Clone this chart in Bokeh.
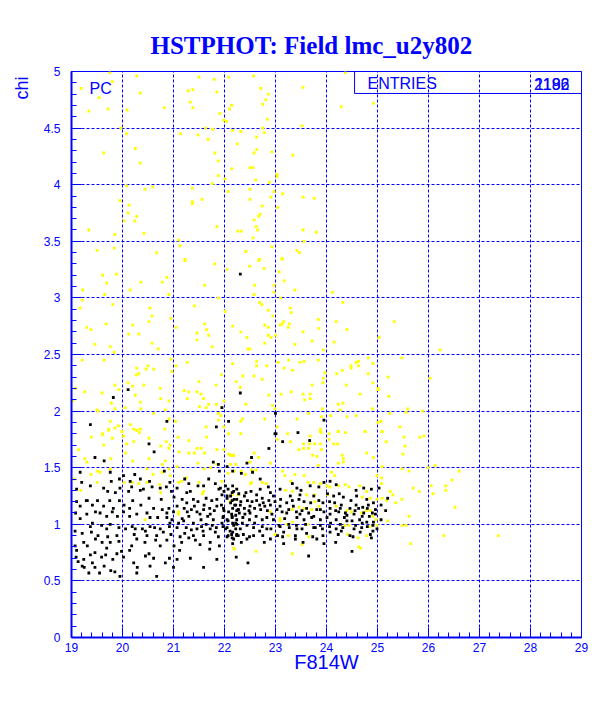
import numpy as np
from bokeh.plotting import figure
from bokeh.models import Range1d, FixedTicker, Label, BoxAnnotation, Title
from bokeh.embed import file_html
from bokeh.resources import INLINE

BLUE = "#0000ff"

x_ticks = [19, 20, 21, 22, 23, 24, 25, 26, 27, 28, 29]
y_ticks = [0, 0.5, 1, 1.5, 2, 2.5, 3, 3.5, 4, 4.5, 5]
y_tick_labels = ["0", "0.5", "1", "1.5", "2", "2.5", "3", "3.5", "4", "4.5", "5"]

title_text = "HSTPHOT: Field lmc_u2y802"
x_title = "F814W"
y_title = "chi"
entries_counts = ["2196", "1182"]

# yellow points (all stars)
yellow_pts = [
 (19.75,4.99),(20.28,4.96),(21.50,4.95),(21.80,4.93),(22.08,4.95),(22.57,4.96),(19.19,4.85),(19.80,4.91),
 (22.71,4.85),(23.54,4.86),(20.35,4.81),(21.29,4.83),(21.38,4.84),(21.85,4.82),(22.86,4.80),(19.54,4.77),
 (21.33,4.73),(22.81,4.75),(22.75,4.71),(22.14,4.70),(22.10,4.67),(19.72,4.67),(19.34,4.65),(20.09,4.66),
 (20.82,4.68),(21.38,4.68),(21.91,4.63),(22.84,4.58),(21.99,4.57),(22.04,4.56),(23.52,4.52),(19.97,4.50),
 (21.63,4.50),(21.77,4.49),(22.16,4.48),(22.32,4.47),(22.75,4.50),(22.78,4.46),(20.08,4.45),(21.14,4.45),
 (21.48,4.44),(21.68,4.40),(22.63,4.42),(22.25,4.36),(22.63,4.31),(20.25,4.32),(19.63,4.28),(21.81,4.28),
 (22.58,4.28),(22.93,4.29),(23.34,4.26),(20.35,4.19),(21.88,4.21),(22.14,4.14),(22.50,4.15),(22.56,4.15),
 (23.03,4.09),(21.88,4.08),(23.03,4.07),(22.61,4.04),(22.88,4.02),(21.76,4.01),(22.01,4.05),(20.08,3.99),
 (20.59,3.98),(20.44,3.96),(21.37,3.97),(22.50,3.96),(22.07,3.94),(22.97,3.94),(23.14,3.92),(22.91,3.89),
 (23.54,3.89),(23.76,3.88),(21.56,3.87),(21.37,3.85),(19.95,3.86),(22.50,3.87),(21.37,3.83),(20.13,3.82),
 (22.74,3.81),(23.04,3.80),(20.11,3.75),(20.28,3.72),(22.70,3.74),(22.67,3.72),(22.58,3.69),(20.03,3.68),
 (20.24,3.68),(22.62,3.63),(21.85,3.63),(22.26,3.59),(22.33,3.59),(22.65,3.60),(23.54,3.60),(19.34,3.60),
 (20.42,3.57),(23.80,3.58),(19.85,3.56),(22.56,3.53),(23.56,3.50),(21.10,3.51),(21.13,3.46),(19.50,3.42),
 (19.84,3.44),(20.67,3.40),(22.42,3.41),(22.93,3.45),(23.42,3.42),(23.47,3.40),(21.23,3.34),(23.13,3.35),
 (22.69,3.34),(24.37,4.99),(24.29,4.69),(24.92,4.72),
 (21.22,3.33),(21.81,3.30),(22.67,3.33),(22.49,3.28),(22.78,3.26),(22.05,3.25),(23.13,3.34),(23.07,3.23),
 (19.61,3.20),(19.88,3.21),(20.87,3.18),(23.17,3.15),(19.69,3.13),(20.36,3.14),(20.78,3.14),(21.61,3.11),
 (22.59,3.11),(22.97,3.11),(19.22,3.07),(20.15,3.07),(19.65,3.03),(20.91,3.03),(22.58,3.03),(23.38,3.07),
 (22.97,3.05),(19.21,2.98),(21.88,3.00),(23.10,3.00),(22.69,2.96),(22.73,2.94),(19.81,2.94),(19.17,2.91),
 (20.54,2.91),(22.86,2.89),(23.29,2.91),(22.01,2.88),(21.41,2.93),(23.31,2.87),(22.95,2.84),(20.58,2.84),
 (20.95,2.82),(23.16,2.79),(23.13,2.77),(23.27,2.77),(23.84,2.81),(23.09,2.76),(19.68,2.77),(20.52,2.79),
 (21.61,2.77),(19.30,2.74),(19.38,2.72),(20.20,2.76),(21.05,2.74),(21.65,2.72),(22.16,2.75),(22.79,2.76),
 (22.86,2.74),(23.25,2.74),(23.85,2.73),(21.69,2.67),(22.32,2.70),(20.12,2.68),(20.32,2.68),(21.46,2.69),
 (22.86,2.67),(22.91,2.65),(23.00,2.67),(23.54,2.70),(22.44,2.65),(21.46,2.63),(19.46,2.59),(20.58,2.60),
 (21.76,2.57),(22.79,2.60),(23.38,2.59),(23.72,2.62),(19.76,2.57),(20.70,2.55),(22.50,2.55),(22.46,2.55),
 (19.84,2.52),(23.94,2.54),(19.21,2.45),(19.64,2.45),(20.95,2.46),(21.27,2.43),(22.16,2.42),(22.63,2.44),
 (23.05,2.43),(23.26,2.45),(23.48,2.43),(23.56,2.44),(23.84,2.45),(22.63,2.40),(22.83,2.40),(23.17,2.38),
 (20.50,2.40),(21.05,2.40),(20.28,2.38),(20.61,2.37),(23.33,2.36),(20.46,2.37),(20.32,2.33),(20.27,2.32),
 (20.97,2.35),(23.97,2.34),(23.94,2.29),(21.94,2.32),(22.36,2.31),(22.58,2.31),(22.74,2.28),(20.11,2.25),
 (21.50,2.26),(22.23,2.26),(20.42,2.23),(20.20,2.22),(19.85,2.23),(21.84,2.23),(23.72,2.23),(23.93,2.25),
 (20.74,2.20),(22.31,2.21),(19.93,2.19),(19.08,2.20),(19.26,2.17),(19.60,2.16),(21.21,2.18),(21.30,2.17),
 (21.46,2.17),(21.54,2.15),(23.11,2.15),(23.31,2.17),(23.54,2.15),(23.68,2.15),(22.87,2.14),(23.68,2.11),
 (20.25,2.14),(20.75,2.11),(20.91,2.09),(21.59,2.11),(21.69,2.06),(21.84,2.06),(21.27,2.11),(19.78,2.07),
 (19.03,2.09),(20.35,2.08),(21.99,2.09),(22.42,2.06),(23.57,2.10),(21.51,2.04),(21.64,2.03),(22.94,2.05),
 (22.99,2.02),(21.94,2.03),(19.85,2.02),(20.05,2.03),(20.36,2.02),(20.84,2.01),(19.50,2.01),(19.52,2.00),
 (23.92,2.02),(21.88,1.98),(20.61,1.98),(21.93,1.96),(23.65,1.98),(20.91,1.93),(21.88,1.92),(22.35,1.93),
 (22.79,1.93),(23.42,1.93),(23.90,1.95),(19.76,1.91),(21.04,1.91),(22.32,1.91),(19.92,1.87),(20.15,1.88),
 (19.85,1.85),(21.64,1.86),(21.99,1.86),(23.03,1.86),(19.73,1.84),(20.22,1.84),(20.28,1.83),(20.35,1.84),
 (20.83,1.84),(23.88,1.84),(19.61,1.79),(19.99,1.82),(23.89,1.81),
 (24.12,3.05),(24.32,2.96),(24.19,2.79),(24.40,2.72),(25.33,2.79),(24.15,2.61),(25.03,2.65),(26.23,2.54),
 (24.82,2.47),(25.48,2.47),(24.63,2.44),(24.58,2.43),(24.91,2.42),(24.48,2.40),(24.63,2.40),(24.48,2.38),
 (24.31,2.36),(24.20,2.33),(24.82,2.33),(25.21,2.30),(26.03,2.29),(24.91,2.25),(24.39,2.23),(25.01,2.20),
 (25.01,2.19),(24.66,2.15),(25.22,2.13),(24.32,2.07),(24.23,2.06),(24.90,2.02),(24.27,2.01),(25.59,2.02),
 (25.56,1.99),(25.88,2.00),(25.24,1.98),(24.08,1.96),(24.40,1.95),(24.58,1.96),(25.07,1.91),(25.01,1.90),
 (25.44,1.86),(24.23,1.82),(24.37,1.81),(24.75,1.82),(25.09,1.82),
 (25.52,1.77),(25.91,1.78),(25.83,1.77),(25.54,1.69),(25.50,1.62),(26.13,1.52),(25.99,1.50),(25.48,1.49),
 (25.62,1.47),(26.60,1.47),(26.46,1.39),(26.05,1.34),(26.34,1.34),(25.70,1.32),(25.82,1.29),(26.09,1.27),
 (26.34,1.30),(25.48,1.22),(25.36,1.19),(26.52,1.15),(25.62,1.07),(25.48,0.99),(25.56,0.99),(26.30,0.90),
 (25.65,0.83),(27.37,0.90),
 (19.61,1.80),(19.73,1.83),(20.02,1.78),(20.28,1.83),(20.33,1.81),(19.39,1.77),(19.80,1.76),(19.63,1.70),
 (20.08,1.71),(20.22,1.73),(20.52,1.76),(20.75,1.69),(20.86,1.73),(20.93,1.70),(20.91,1.67),(21.09,1.77),
 (21.30,1.74),(21.65,1.77),(21.46,1.67),(21.54,1.67),(22.08,1.80),(21.85,1.66),(21.99,1.66),(21.11,1.64),
 (21.30,1.63),(21.41,1.63),(21.61,1.63),(19.14,1.66),(20.06,1.63),(19.26,1.58),(19.30,1.55),(19.77,1.58),
 (20.20,1.56),(20.52,1.58),(20.84,1.56),(20.78,1.53),(22.08,1.62),(22.18,1.61),(22.22,1.53),(21.85,1.53),
 (21.48,1.54),(19.51,1.47),(19.76,1.49),(20.48,1.49),(20.91,1.49),(21.07,1.51),(20.78,1.46),(19.38,1.44),
 (19.56,1.46),(20.60,1.44),(20.94,1.43),(21.25,1.41),(21.60,1.49),(21.73,1.50),(22.07,1.45),(22.19,1.47),
 (19.05,1.40),(19.50,1.37),(20.03,1.37),(20.19,1.37),(20.32,1.36),(20.48,1.37),(20.73,1.35),(21.10,1.37),
 (21.16,1.38),(21.50,1.37),(21.95,1.38),(19.18,1.30),(20.75,1.28),(21.59,1.29),(21.57,1.27),(22.15,1.26),
 (20.44,1.04),(21.10,1.11),(21.10,1.09),(22.19,0.78),
 (22.32,1.80),(23.24,1.80),(23.68,1.78),(24.05,1.80),(24.23,1.82),(23.88,1.82),(24.76,1.82),(25.09,1.82),
 (23.03,1.75),(23.29,1.73),(23.55,1.71),(23.67,1.71),(23.77,1.71),(23.88,1.71),(24.05,1.75),(24.14,1.71),
 (24.22,1.71),(25.17,1.73),(22.12,1.61),(22.18,1.61),(22.58,1.63),(22.67,1.59),(23.46,1.66),(23.55,1.67),
 (23.65,1.67),(23.73,1.61),(23.81,1.60),(23.90,1.66),(24.31,1.61),(24.33,1.58),(24.79,1.63),(24.92,1.59),
 (22.50,1.55),(22.90,1.54),(23.84,1.52),(24.23,1.54),(24.33,1.55),(25.09,1.51),(22.12,1.53),(22.33,1.47),
 (22.41,1.44),(22.53,1.48),(22.62,1.48),(23.14,1.47),(23.18,1.43),(23.38,1.44),(23.56,1.43),(24.10,1.46),
 (24.16,1.43),(24.99,1.43),(25.08,1.41),(22.53,1.37),(22.51,1.36),(22.74,1.37),(22.82,1.36),(23.30,1.38),
 (23.64,1.37),(23.75,1.37),(23.88,1.36),(24.01,1.34),(24.24,1.34),(24.37,1.35),(24.44,1.33),(24.65,1.34),
 (25.08,1.36),(25.25,1.29),(23.20,1.30),(23.33,1.29),(24.07,1.33),(24.79,1.29),(23.61,1.26),(23.77,1.26),
 (24.02,1.26),(24.70,1.24),(24.86,1.23),(24.99,1.22),(25.09,1.23),(25.30,1.26),(25.18,1.21),(23.77,1.20),
 (22.27,1.26),(22.11,1.20),(22.24,1.22),(23.46,1.15),(23.85,1.16),(23.56,1.14),(22.90,1.11),(23.33,1.13),
 (23.71,1.13),(24.19,1.16),(24.40,1.12),(24.49,1.11),(24.69,1.10),(24.78,1.12),(24.86,1.12),(24.91,1.07),
 (24.97,1.04),(24.99,0.99),(25.20,1.03),(24.84,0.98),(23.09,1.05),(23.09,1.03),(23.33,1.02),(23.22,1.00),
 (23.63,1.00),(24.36,0.99),(24.44,0.99),(22.99,0.91),(23.65,0.89),(24.42,0.91),(24.62,0.88),(24.79,0.90),
 (23.25,0.90),(23.52,0.82),(22.18,0.79),(24.63,0.80),(24.67,0.79),(22.62,0.76),(23.33,0.74),
]

# black points (selected stars)
black_pts = [
 (22.31,3.21),(20.11,2.19),(19.82,2.12),(22.31,2.16),(21.95,2.03),(23.00,1.98),(20.87,1.91),(22.08,1.91),
 (19.37,1.88),(21.84,1.86),(23.95,1.92),(23.44,1.81),(22.99,1.80),
 (20.52,1.71),(19.64,1.56),(19.46,1.59),(20.62,1.64),(21.78,1.55),(21.88,1.53),(21.90,1.47),(22.05,1.51),
 (20.15,1.38),(20.18,1.33),(19.20,1.37),(19.78,1.38),(19.94,1.40),(20.24,1.44),(20.82,1.47),(19.71,1.29),
 (19.86,1.28),(20.12,1.29),(20.35,1.30),(20.53,1.38),(20.58,1.33),(20.86,1.33),(20.96,1.29),(21.22,1.40),
 (21.30,1.36),(21.33,1.29),(21.48,1.34),(21.69,1.40),(21.82,1.36),(22.02,1.34),(22.16,1.34),(21.89,1.31),
 (21.64,1.23),(21.75,1.21),(21.85,1.22),(22.05,1.25),(22.15,1.21),(22.24,1.22),(19.29,1.21),(19.31,1.21),
 (19.10,1.20),(19.51,1.21),(19.75,1.21),(19.94,1.21),(20.20,1.21),(20.52,1.23),(20.76,1.22),(21.01,1.24),
 (21.17,1.22),(21.26,1.19),(21.39,1.22),(21.48,1.20),(19.17,1.16),(19.41,1.17),(19.63,1.16),(19.82,1.14),
 (20.03,1.17),(20.14,1.14),(20.36,1.17),(20.61,1.14),(20.78,1.13),(20.91,1.14),(21.07,1.16),(21.21,1.14),
 (21.35,1.13),(21.46,1.11),(21.59,1.13),(21.71,1.14),(21.85,1.16),(21.98,1.14),(22.08,1.11),(22.24,1.12),
 (19.56,1.10),(19.69,1.07),(19.90,1.07),(20.14,1.07),(20.28,1.09),(20.69,1.06),(20.87,1.06),(21.17,1.05),
 (21.30,1.07),(21.54,1.04),(21.67,1.07),(21.78,1.04),(21.97,1.06),(22.05,1.04),(22.15,1.06),(19.17,1.05),
 (19.41,1.01),(19.59,0.99),(19.76,1.00),(19.93,0.97),(20.19,0.98),(20.39,0.96),(20.54,0.98),(20.63,0.97),
 (20.74,0.96),(20.92,0.98),(21.07,0.97),(21.25,0.97),(21.35,0.95),(21.55,0.98),(21.72,0.96),(21.84,0.97),
 (21.97,0.98),(22.05,0.97),(22.16,0.93),(22.24,0.91),(19.07,0.94),(19.21,0.92),(19.39,0.93),(19.52,0.90),
 (19.71,0.89),(19.89,0.90),(20.23,0.91),(20.48,0.90),(20.67,0.90),(20.95,0.91),(21.13,0.89),(21.39,0.90),
 (21.59,0.90),(21.88,0.89),(22.07,0.90),(19.24,0.84),(19.31,0.81),(19.07,0.81),(19.60,0.84),(19.93,0.85),
 (20.18,0.81),(20.44,0.84),(20.65,0.86),(20.87,0.86),(21.16,0.84),(21.72,0.84),(21.90,0.81),(19.10,0.77),
 (19.46,0.75),(19.67,0.73),(19.98,0.76),(20.14,0.77),(20.52,0.74),(21.12,0.77),(19.09,0.71),(19.24,0.69),
 (19.59,0.71),(19.81,0.69),(20.02,0.71),(20.45,0.72),(20.61,0.70),(20.92,0.70),(21.07,0.69),(21.33,0.70),
 (19.21,0.63),(19.25,0.62),(19.41,0.66),(19.46,0.62),(19.64,0.63),(19.77,0.59),(19.85,0.58),(20.29,0.62),
 (19.34,0.57),(21.59,0.62),(20.28,0.57),(20.67,0.54),(21.85,0.69),
 (23.01,1.80),(23.14,1.73),(23.67,1.74),(22.87,1.67),(22.53,1.59),(22.44,1.54),(22.16,1.47),(22.33,1.45),
 (22.55,1.46),(22.70,1.40),(22.86,1.33),(23.09,1.31),(23.33,1.36),(23.42,1.32),(23.50,1.30),(23.68,1.34),
 (23.85,1.33),(23.95,1.37),(24.07,1.38),(24.19,1.35),(24.25,1.27),(24.58,1.30),(24.73,1.32),(24.88,1.31),
 (25.03,1.32),(25.20,1.23),(22.15,1.28),(22.28,1.27),(22.42,1.28),(22.52,1.29),(22.63,1.26),(22.74,1.23),
 (22.19,1.22),(22.32,1.20),(22.45,1.21),(22.54,1.20),(22.63,1.21),(22.76,1.19),(22.87,1.21),(22.99,1.20),
 (23.10,1.22),(23.22,1.19),(23.33,1.21),(23.46,1.22),(23.56,1.20),(23.69,1.19),(23.85,1.21),(23.93,1.19),
 (24.06,1.20),(24.16,1.19),(24.29,1.17),(24.48,1.21),(24.58,1.17),(24.71,1.15),(24.82,1.17),(24.96,1.13),
 (25.07,1.17),(25.16,1.12),(22.16,1.14),(22.27,1.13),(22.39,1.14),(22.48,1.12),(22.59,1.14),(22.71,1.13),
 (22.84,1.12),(23.03,1.13),(23.13,1.11),(23.26,1.13),(23.41,1.11),(23.52,1.12),(23.65,1.10),(23.81,1.13),
 (23.95,1.11),(24.07,1.09),(24.24,1.11),(24.40,1.08),(24.54,1.09),(24.70,1.07),(24.84,1.07),(25.07,1.04),
 (22.15,1.07),(22.24,1.04),(22.36,1.06),(22.49,1.04),(22.62,1.07),(22.74,1.04),(22.83,1.06),(22.96,1.04),
 (23.18,1.05),(23.42,1.06),(23.56,1.04),(23.71,1.06),(23.88,1.04),(24.01,1.06),(24.19,1.04),(24.35,1.06),
 (24.50,1.03),(24.65,1.04),(24.79,1.02),(24.92,1.02),(22.18,0.99),(22.31,0.96),(22.44,0.99),(22.57,0.97),
 (22.74,0.98),(22.91,0.96),(23.07,0.99),(23.27,0.97),(23.41,0.99),(23.52,0.96),(23.78,0.97),(23.92,0.96),
 (24.06,0.98),(24.19,0.96),(24.32,0.97),(24.54,0.96),(24.69,0.97),(24.91,0.94),(22.14,0.91),(22.24,0.90),
 (22.37,0.91),(22.49,0.89),(22.75,0.90),(23.04,0.90),(23.14,0.89),(23.39,0.90),(23.73,0.89),(23.93,0.90),
 (24.23,0.91),(24.52,0.89),(24.88,0.88),(22.16,0.83),(22.33,0.84),(22.78,0.84),(23.16,0.83),(23.54,0.84),
 (23.95,0.83),(24.18,0.84),(24.50,0.76),(22.23,0.71),(22.46,0.66),(23.65,0.72),
 (21.92,1.32),(21.99,1.29),(22.07,1.31),(22.18,1.29),(22.24,1.31),(21.95,1.26),(22.05,1.23),(22.12,1.19),
 (22.22,1.17),(21.94,1.17),(21.99,1.12),(22.14,1.09),(22.22,1.08),(22.27,1.13),(21.98,1.07),(22.07,1.03),
 (22.16,1.01),(22.24,1.00),(21.95,1.01),(22.02,0.96),(22.11,0.94),(22.22,0.96),(22.27,0.90),(22.05,0.89),
 (22.15,0.88),(21.00,1.11),(21.10,1.01),(20.97,1.04),(21.27,1.11),(21.41,1.16),(21.52,1.09),(21.60,1.17),
 (21.72,1.09),(21.80,1.12),(21.64,1.00),(21.76,0.99),(21.46,0.96),(21.58,0.94),(21.22,0.92),(21.30,0.88),
 (21.43,0.86),(21.01,0.81),(21.52,0.82),(21.71,0.78),(21.82,0.93),(21.20,1.03),(21.39,1.01),(20.87,1.10),
 (20.93,1.01),(19.08,1.10),(19.30,1.09),(19.47,1.11),(19.80,1.11),(20.02,1.11),(20.48,1.10),(20.54,1.06),
 (19.37,0.98),(19.69,0.96),(20.06,0.96),(20.25,0.96),(20.45,0.94),(20.80,0.93),(19.47,0.87),(19.76,0.84),
 (20.28,0.87),(20.74,0.81),(19.69,0.79),(19.37,0.73),(19.89,0.74),(20.22,0.66),(19.13,0.67),(19.55,0.57),
 (19.95,0.54),(20.84,0.66),(21.00,0.62),(20.54,0.63),(19.10,1.31),(19.37,1.34),(19.63,1.32),(19.95,1.32),
 (20.41,1.31),(20.74,1.32),(21.07,1.32),(21.26,1.28),(21.59,1.34),(20.93,1.37),(20.02,1.43),(19.76,1.46),
 (19.17,1.46),(20.35,1.40),
 (22.12,1.25),(22.20,1.17),(22.29,1.10),(22.40,1.09),(22.22,1.01),(22.35,1.01),(22.50,1.10),(22.59,1.01),
 (22.69,1.17),(22.79,1.16),(22.90,1.17),(22.93,1.09),(22.69,0.94),(22.83,0.96),(22.57,0.90),(22.18,0.87),
 (22.44,0.87),(22.90,0.87),(22.31,1.17),(22.50,1.16),(22.39,1.25),(22.70,1.31),(22.90,1.28),(22.96,1.25),
 (24.07,1.14),(24.18,1.12),(24.27,1.14),(24.37,1.10),(24.46,1.14),(24.56,1.12),(24.63,1.14),(24.73,1.10),
 (24.80,1.14),(24.90,1.10),(24.96,1.09),(24.08,1.01),(24.27,1.00),(24.40,1.03),(24.57,0.99),(24.70,1.01),
 (24.80,0.98),(24.91,0.99),(24.07,0.93),(24.29,0.94),(24.46,0.90),(24.66,0.93),(24.86,0.91),(24.99,0.96),
 (24.02,1.27),(24.14,1.25),(24.33,1.24),(24.59,1.25),(24.79,1.22),(24.92,1.19),
 (23.09,1.16),(23.22,1.10),(23.35,1.16),(23.48,1.09),(23.61,1.14),(23.75,1.07),(23.88,1.13),(23.09,0.98),
 (23.26,1.00),(23.42,0.96),(23.59,1.00),(23.75,0.97),(23.88,0.99),(23.16,0.93),(23.39,0.87),(23.61,0.92),
 (23.81,0.87),(23.29,1.25),(23.48,1.26),(23.75,1.25),
]

yellow_x = [p[0] for p in yellow_pts]
yellow_y = [p[1] for p in yellow_pts]
black_x = [p[0] for p in black_pts]
black_y = [p[1] for p in black_pts]

p = figure(width=596, height=693, x_range=Range1d(19, 29), y_range=Range1d(0, 5),
           output_backend="svg", toolbar_location=None,
           min_border_left=71, min_border_right=15, min_border_top=71, min_border_bottom=56)
p.background_fill_color = "white"
p.border_fill_color = "white"
p.outline_line_color = BLUE
p.outline_line_width = 1

p.title.text = title_text
p.title.align = "left"
p.title.offset = 79
p.title.text_font = "Liberation Serif"
p.title.text_font_style = "bold"
p.title.text_font_size = "25px"
p.title.text_color = BLUE
p.title.standoff = 25

chi = Title(text=y_title + " ", align="right", text_font="Liberation Sans",
            text_font_style="normal", text_font_size="18px", text_color=BLUE, standoff=17)
p.add_layout(chi, "left")

x_minor = [round(v, 1) for v in np.arange(19, 29.001, 0.2)]
y_minor = [round(v, 1) for v in np.arange(0, 5.001, 0.1)]
p.xaxis.ticker = FixedTicker(ticks=x_ticks, minor_ticks=x_minor)
p.yaxis.ticker = FixedTicker(ticks=y_ticks, minor_ticks=y_minor)
p.yaxis.major_label_overrides = {t: l for t, l in zip(y_ticks, y_tick_labels)}

for ax in (p.xaxis[0], p.yaxis[0]):
    ax.axis_line_color = BLUE
    ax.axis_line_width = 2
    ax.major_tick_line_color = BLUE
    ax.minor_tick_line_color = BLUE
    ax.major_tick_in = 10
    ax.major_tick_out = 0
    ax.minor_tick_in = 5
    ax.minor_tick_out = 0
    ax.major_label_text_color = BLUE
    ax.major_label_text_font = "Liberation Sans"
    ax.major_label_text_font_size = "12px"
p.xaxis.major_label_standoff = 5
p.yaxis.major_label_standoff = 11
p.xaxis.axis_label = x_title
p.xaxis.axis_label_text_font = "Liberation Sans"
p.xaxis.axis_label_text_font_style = "normal"
p.xaxis.axis_label_text_font_size = "20px"
p.xaxis.axis_label_text_color = BLUE
p.xaxis.axis_label_standoff = -4

p.xgrid.ticker = FixedTicker(ticks=x_ticks[1:-1])
p.ygrid.ticker = FixedTicker(ticks=y_ticks[1:-1])
for g in (p.xgrid[0], p.ygrid[0]):
    g.grid_line_color = BLUE
    g.grid_line_dash = "3 2"
    g.grid_line_width = 1

p.scatter(yellow_x, yellow_y, marker="square", size=2.8, fill_color="#ffff00", line_color=None)
p.scatter(black_x, black_y, marker="square", size=2.8, fill_color="black", line_color=None)

p.add_layout(BoxAnnotation(left=24.55, right=29, bottom=4.806, top=5, fill_alpha=0,
                           line_color=BLUE, line_width=1, line_alpha=1))

def lab(**kw):
    base = dict(x_units="screen", y_units="screen", text_color=BLUE, text_font="Liberation Sans")
    base.update(kw)
    p.add_layout(Label(**base))

lab(x=18, y=549, text="PC", text_align="left", text_baseline="alphabetic", text_font_size="16px")
lab(x=296, y=554, text="ENTRIES", text_align="left", text_baseline="alphabetic", text_font_size="16px")
for c in entries_counts:
    lab(x=498, y=554, text=c, text_align="right", text_baseline="alphabetic", text_font_size="16px")

open("out.html", "w").write(file_html(p, INLINE))
